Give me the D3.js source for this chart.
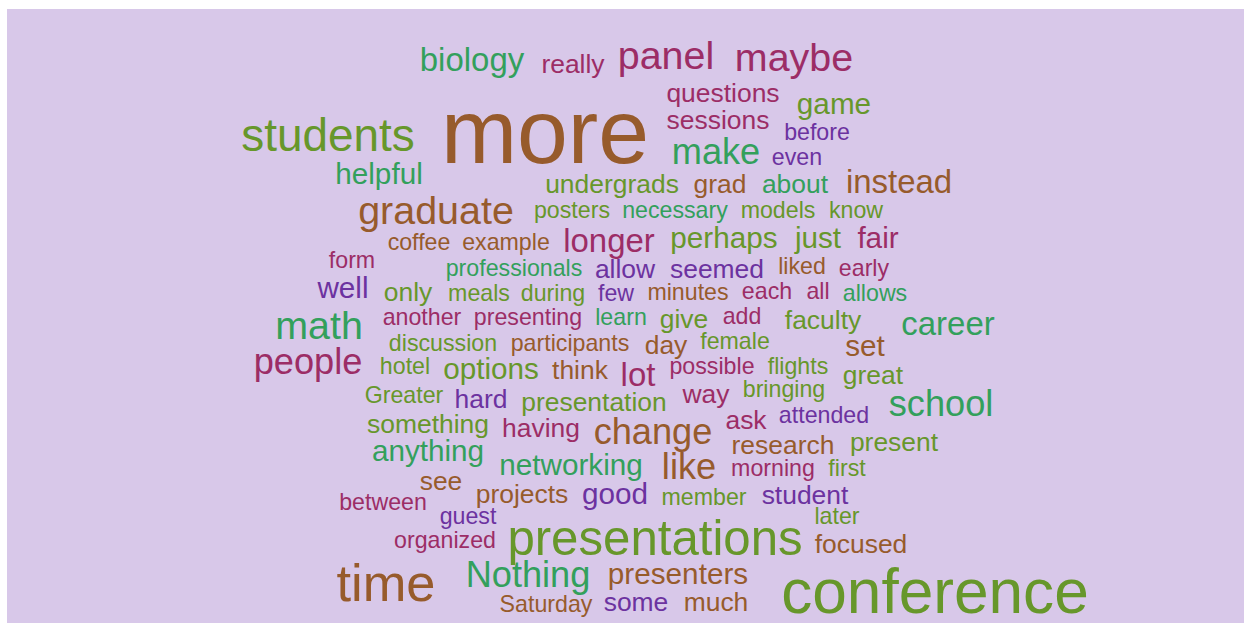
<!DOCTYPE html>
<html>
<head>
  <script src="https://d3js.org/d3.v7.min.js"></script>
</head>

<style>
body {
  margin: 0;
  background: white;
}
text {
  font-family: Arial, "Liberation Sans", sans-serif;
}
</style>

<body>
</body>

<script>
    // words of the cloud, how often each came up, and its colour group
    var words = ["more", "conference", "time", "presentations", "students", "graduate", "panel", "maybe", "math",
      "people", "Nothing", "change", "like", "school", "make", "career", "instead", "biology", "longer", "lot",
      "presenters", "networking", "options", "anything", "helpful", "game", "perhaps", "just", "fair", "well", "good", "set",
      "really", "questions", "sessions", "undergrads", "grad", "about", "allow", "seemed", "only", "give", "faculty", "day",
      "think", "great", "hard", "presentation", "way", "ask", "something", "having", "research", "present", "see",
      "projects", "student", "focused", "some", "much",
      "before", "even", "posters", "necessary", "models", "know", "coffee", "example", "form", "professionals", "liked",
      "early", "meals", "during", "few", "minutes", "each", "all", "allows", "another", "presenting", "learn", "add",
      "discussion", "participants", "female", "hotel", "possible", "flights", "Greater", "bringing", "attended",
      "morning", "first", "between", "member", "guest", "later", "organized", "Saturday"];

    var counts = [22, 13, 10, 9, 8, 6, 6, 6, 6,
      5, 5, 5, 5, 5, 5, 4, 4, 4, 4, 4,
      3, 3, 3, 3, 3, 3, 3, 3, 3, 3, 3, 3,
      2, 2, 2, 2, 2, 2, 2, 2, 2, 2, 2, 2,
      2, 2, 2, 2, 2, 2, 2, 2, 2, 2, 2,
      2, 2, 2, 2, 2,
      1, 1, 1, 1, 1, 1, 1, 1, 1, 1, 1,
      1, 1, 1, 1, 1, 1, 1, 1, 1, 1, 1, 1,
      1, 1, 1, 1, 1, 1, 1, 1, 1,
      1, 1, 1, 1, 1, 1, 1, 1];

    var groups = ["b", "o", "b", "o", "o", "b", "c", "c", "g",
      "c", "g", "b", "b", "g", "g", "g", "b", "g", "c", "c",
      "b", "g", "o", "g", "g", "o", "o", "o", "c", "p", "p", "b",
      "c", "c", "c", "o", "b", "g", "p", "p", "o", "o", "o", "b",
      "b", "o", "p", "o", "c", "c", "o", "c", "b", "o", "b",
      "b", "p", "b", "p", "b",
      "p", "p", "o", "g", "o", "o", "b", "b", "c", "g", "b",
      "c", "o", "o", "p", "b", "c", "c", "g", "c", "c", "g", "c",
      "o", "b", "o", "o", "c", "o", "o", "o", "p",
      "c", "o", "c", "o", "p", "o", "c", "b"];

    // where the layout put each word (centre x, baseline y)
    var layoutX = [545, 935, 386, 655, 328, 436, 666, 794, 319,
      308, 528, 653, 689, 941, 716, 948, 899, 472, 609, 638,
      678, 571, 491, 428, 379, 834, 724, 818, 878, 343, 615, 865,
      573, 723, 718, 612, 720, 795, 625, 717, 408, 684, 823, 666,
      580, 873, 481, 594, 706, 746, 428, 541, 783, 894, 441,
      522, 805, 861, 636, 716,
      817, 797, 572, 675, 778, 856, 419, 506, 352, 514, 802,
      864, 479, 553, 616, 688, 767, 818, 875, 422, 528, 621, 742,
      443, 570, 735, 405, 712, 798, 404, 784, 824,
      773, 847, 383, 704, 468, 837, 445, 546];

    var layoutY = [163, 613, 601, 555, 151, 224, 69, 71, 339,
      374, 587, 444, 479, 416, 164, 335, 193, 71, 252, 386,
      584, 475, 379, 461, 184, 114, 248, 248, 248, 298, 504, 356,
      73, 102, 129, 193, 193, 193, 278, 278, 301, 328, 329, 354,
      379, 384, 408, 411, 403, 429, 433, 437, 454, 451, 490,
      503, 504, 553, 611, 611,
      140, 165, 218, 218, 218, 218, 250, 250, 268, 276, 274,
      276, 301, 301, 301, 300, 299, 299, 301, 325, 325, 325, 324,
      351, 351, 349, 374, 374, 374, 403, 397, 423,
      476, 476, 510, 505, 524, 524, 548, 612];

    var width = 1244,
        height = 623;

    var svg = d3.select("body")
      .append("svg")
      .attr("width", width)
      .attr("height", height);

    svg.append("rect")
      .attr("x", 7)
      .attr("y", 9)
      .attr("width", width - 7)
      .attr("height", height - 9)
      .attr("fill", "#d8c8e9");

    var x = d3.scaleLinear().domain([0, 1244]).range([0, width]);
    var y = d3.scaleLinear().domain([0, 623]).range([0, height]);
    var size = d3.scaleLinear().domain([1, 22]).range([23.2, 91.4]);
    var color = d3.scaleOrdinal()
      .domain(["b", "o", "g", "c", "p"])
      .range(["#975b2c", "#67972b", "#33a05c", "#9c2d66", "#6c32a0"]);

    var data = words.map(function(w, i) {
      return {text: w, count: counts[i], group: groups[i], x: layoutX[i], y: layoutY[i]};
    });

    svg.selectAll("text.word")
      .data(data)
      .enter()
      .append("text")
      .attr("class", "word")
      .attr("text-anchor", "middle")
      .attr("x", function(d) { return x(d.x) })
      .attr("y", function(d) { return y(d.y) })
      .attr("font-size", function(d) { return size(d.count) + "px" })
      .attr("fill", function(d) { return color(d.group) })
      .text(function(d) { return d.text });
</script>
</html>
